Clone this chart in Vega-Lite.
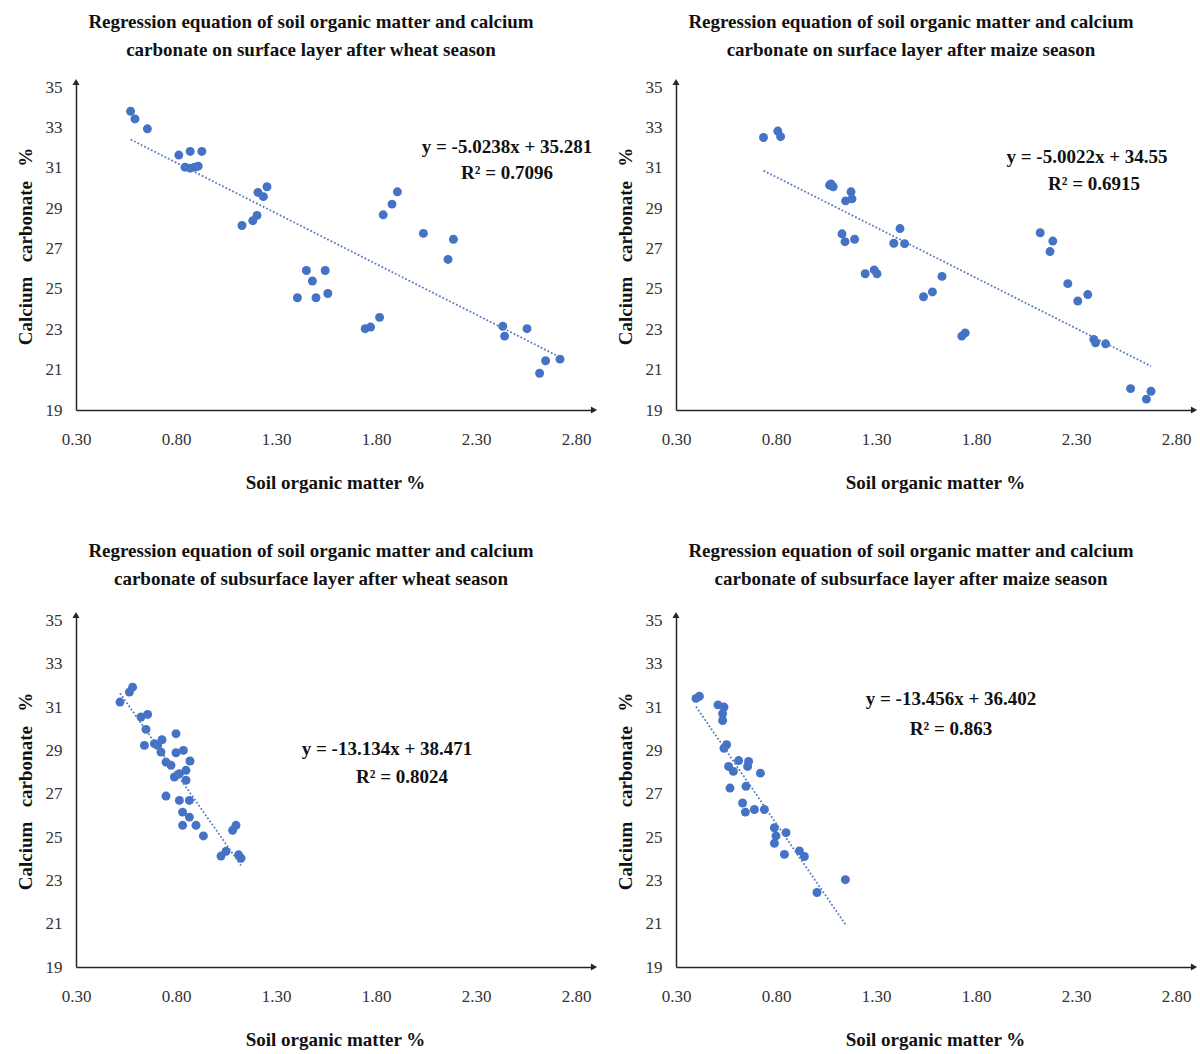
{
  "$schema": "https://vega.github.io/schema/vega-lite/v6.json",
  "background": "white",
  "padding": {"left": 16, "top": 13, "right": 5, "bottom": 5},
  "config": {
    "font": "Liberation Serif",
    "view": {"stroke": null},
    "axis": {"grid": false, "ticks": false, "domainColor": "#262626", "domainWidth": 1.5, "labelFont": "Liberation Serif", "labelFontSize": 17, "labelColor": "#333333", "titleFont": "Liberation Serif", "titleFontSize": 19, "titleFontWeight": "bold", "titleColor": "#111111", "labelFlush": false},
    "axisX": {"labelPadding": 21, "titlePadding": 26},
    "axisY": {"labelPadding": 14, "titlePadding": 10},
    "title": {"font": "Liberation Serif", "fontSize": 19, "fontWeight": "bold", "color": "#111111", "lineHeight": 28, "offset": 18, "dx": -24}
  },
  "datasets": {
    "points": [
      {"p": 1, "x": 0.573, "y": 33.80}, {"p": 1, "x": 0.595, "y": 33.42}, {"p": 1, "x": 0.657, "y": 32.93},
      {"p": 1, "x": 0.814, "y": 31.63}, {"p": 1, "x": 0.871, "y": 31.81}, {"p": 1, "x": 0.929, "y": 31.81},
      {"p": 1, "x": 0.845, "y": 31.03}, {"p": 1, "x": 0.871, "y": 30.98}, {"p": 1, "x": 0.893, "y": 31.03}, {"p": 1, "x": 0.911, "y": 31.08},
      {"p": 1, "x": 1.255, "y": 30.06}, {"p": 1, "x": 1.21, "y": 29.78}, {"p": 1, "x": 1.237, "y": 29.57},
      {"p": 1, "x": 1.205, "y": 28.64}, {"p": 1, "x": 1.184, "y": 28.38}, {"p": 1, "x": 1.13, "y": 28.14},
      {"p": 1, "x": 1.907, "y": 29.81}, {"p": 1, "x": 1.88, "y": 29.20}, {"p": 1, "x": 1.836, "y": 28.67},
      {"p": 1, "x": 2.037, "y": 27.75}, {"p": 1, "x": 2.187, "y": 27.46}, {"p": 1, "x": 2.16, "y": 26.46},
      {"p": 1, "x": 1.452, "y": 25.91}, {"p": 1, "x": 1.546, "y": 25.91}, {"p": 1, "x": 1.482, "y": 25.39},
      {"p": 1, "x": 1.407, "y": 24.56}, {"p": 1, "x": 1.50, "y": 24.56}, {"p": 1, "x": 1.559, "y": 24.77},
      {"p": 1, "x": 1.818, "y": 23.59}, {"p": 1, "x": 1.773, "y": 23.11}, {"p": 1, "x": 1.746, "y": 23.03},
      {"p": 1, "x": 2.434, "y": 23.15}, {"p": 1, "x": 2.443, "y": 22.66}, {"p": 1, "x": 2.555, "y": 23.03},
      {"p": 1, "x": 2.72, "y": 21.52}, {"p": 1, "x": 2.648, "y": 21.44}, {"p": 1, "x": 2.618, "y": 20.82},

      {"p": 2, "x": 0.7375, "y": 32.50}, {"p": 2, "x": 0.809, "y": 32.82}, {"p": 2, "x": 0.823, "y": 32.54},
      {"p": 2, "x": 1.068, "y": 30.14}, {"p": 2, "x": 1.086, "y": 30.06}, {"p": 2, "x": 1.075, "y": 30.2},
      {"p": 2, "x": 1.175, "y": 29.81}, {"p": 2, "x": 1.148, "y": 29.36}, {"p": 2, "x": 1.18, "y": 29.46},
      {"p": 2, "x": 1.13, "y": 27.73}, {"p": 2, "x": 1.145, "y": 27.34}, {"p": 2, "x": 1.193, "y": 27.46},
      {"p": 2, "x": 1.42, "y": 27.99}, {"p": 2, "x": 1.389, "y": 27.26}, {"p": 2, "x": 1.443, "y": 27.24},
      {"p": 2, "x": 1.246, "y": 25.75}, {"p": 2, "x": 1.291, "y": 25.94}, {"p": 2, "x": 1.305, "y": 25.75},
      {"p": 2, "x": 1.63, "y": 25.62}, {"p": 2, "x": 1.582, "y": 24.85}, {"p": 2, "x": 1.5375, "y": 24.61},
      {"p": 2, "x": 1.729, "y": 22.66}, {"p": 2, "x": 1.746, "y": 22.82},
      {"p": 2, "x": 2.121, "y": 27.78}, {"p": 2, "x": 2.184, "y": 27.37}, {"p": 2, "x": 2.17, "y": 26.85},
      {"p": 2, "x": 2.259, "y": 25.26}, {"p": 2, "x": 2.309, "y": 24.40}, {"p": 2, "x": 2.359, "y": 24.72},
      {"p": 2, "x": 2.389, "y": 22.50}, {"p": 2, "x": 2.398, "y": 22.33}, {"p": 2, "x": 2.448, "y": 22.28},
      {"p": 2, "x": 2.573, "y": 20.06}, {"p": 2, "x": 2.652, "y": 19.54}, {"p": 2, "x": 2.675, "y": 19.93},

      {"p": 3, "x": 0.52, "y": 31.23}, {"p": 3, "x": 0.567, "y": 31.69}, {"p": 3, "x": 0.583, "y": 31.92},
      {"p": 3, "x": 0.625, "y": 30.54}, {"p": 3, "x": 0.658, "y": 30.66}, {"p": 3, "x": 0.65, "y": 29.97},
      {"p": 3, "x": 0.642, "y": 29.23}, {"p": 3, "x": 0.692, "y": 29.31}, {"p": 3, "x": 0.708, "y": 29.23},
      {"p": 3, "x": 0.73, "y": 29.49}, {"p": 3, "x": 0.725, "y": 28.92}, {"p": 3, "x": 0.80, "y": 29.77},
      {"p": 3, "x": 0.80, "y": 28.89}, {"p": 3, "x": 0.837, "y": 29.0}, {"p": 3, "x": 0.87, "y": 28.51},
      {"p": 3, "x": 0.75, "y": 28.46}, {"p": 3, "x": 0.775, "y": 28.31}, {"p": 3, "x": 0.792, "y": 27.77},
      {"p": 3, "x": 0.817, "y": 27.92}, {"p": 3, "x": 0.85, "y": 28.08}, {"p": 3, "x": 0.85, "y": 27.62},
      {"p": 3, "x": 0.75, "y": 26.89}, {"p": 3, "x": 0.817, "y": 26.69}, {"p": 3, "x": 0.867, "y": 26.69},
      {"p": 3, "x": 0.833, "y": 26.15}, {"p": 3, "x": 0.867, "y": 25.92}, {"p": 3, "x": 0.833, "y": 25.54},
      {"p": 3, "x": 0.90, "y": 25.54}, {"p": 3, "x": 0.937, "y": 25.05}, {"p": 3, "x": 1.025, "y": 24.12},
      {"p": 3, "x": 1.05, "y": 24.34}, {"p": 3, "x": 1.083, "y": 25.31}, {"p": 3, "x": 1.10, "y": 25.54},
      {"p": 3, "x": 1.125, "y": 24.02}, {"p": 3, "x": 1.113, "y": 24.18},

      {"p": 4, "x": 0.40, "y": 31.4}, {"p": 4, "x": 0.417, "y": 31.5}, {"p": 4, "x": 0.51, "y": 31.1},
      {"p": 4, "x": 0.54, "y": 31.0}, {"p": 4, "x": 0.533, "y": 30.7}, {"p": 4, "x": 0.533, "y": 30.38},
      {"p": 4, "x": 0.553, "y": 29.26}, {"p": 4, "x": 0.54, "y": 29.1}, {"p": 4, "x": 0.563, "y": 28.26},
      {"p": 4, "x": 0.587, "y": 28.03}, {"p": 4, "x": 0.613, "y": 28.53}, {"p": 4, "x": 0.663, "y": 28.49},
      {"p": 4, "x": 0.658, "y": 28.26}, {"p": 4, "x": 0.722, "y": 27.95}, {"p": 4, "x": 0.65, "y": 27.34},
      {"p": 4, "x": 0.57, "y": 27.26}, {"p": 4, "x": 0.633, "y": 26.57}, {"p": 4, "x": 0.647, "y": 26.15},
      {"p": 4, "x": 0.692, "y": 26.27}, {"p": 4, "x": 0.742, "y": 26.27}, {"p": 4, "x": 0.792, "y": 25.43},
      {"p": 4, "x": 0.80, "y": 25.05}, {"p": 4, "x": 0.792, "y": 24.71}, {"p": 4, "x": 0.85, "y": 25.2},
      {"p": 4, "x": 0.842, "y": 24.2}, {"p": 4, "x": 0.917, "y": 24.36}, {"p": 4, "x": 0.942, "y": 24.1},
      {"p": 4, "x": 1.005, "y": 22.44}, {"p": 4, "x": 1.147, "y": 23.03}
    ],
    "trend": [
      {"p": 1, "x": 0.573, "y": 32.40}, {"p": 1, "x": 2.72, "y": 21.62},
      {"p": 2, "x": 0.7375, "y": 30.86}, {"p": 2, "x": 2.675, "y": 21.17},
      {"p": 3, "x": 0.52, "y": 31.64}, {"p": 3, "x": 1.125, "y": 23.69},
      {"p": 4, "x": 0.40, "y": 31.02}, {"p": 4, "x": 1.147, "y": 20.97}
    ],
    "eq": [
      {"p": 1, "x": 2.455, "y": 32.03, "t": "y = -5.0238x + 35.281"}, {"p": 1, "x": 2.455, "y": 30.74, "t": "R² = 0.7096"},
      {"p": 2, "x": 2.355, "y": 31.53, "t": "y = -5.0022x + 34.55"}, {"p": 2, "x": 2.39, "y": 30.2, "t": "R² = 0.6915"},
      {"p": 3, "x": 1.855, "y": 29.07, "t": "y = -13.134x + 38.471"}, {"p": 3, "x": 1.93, "y": 27.78, "t": "R² = 0.8024"},
      {"p": 4, "x": 1.675, "y": 31.37, "t": "y = -13.456x + 36.402"}, {"p": 4, "x": 1.675, "y": 29.99, "t": "R² = 0.863"}
    ]
  },
  "vconcat": [
    {
      "bounds": "flush",
      "spacing": 82,
      "hconcat": [
        {
          "width": 518, "height": 328,
          "title": {"text": ["Regression equation of soil organic matter and calcium", "carbonate on surface layer after wheat season"]},
          "layer": [
            {"data": {"name": "points"}, "transform": [{"filter": "datum.p == 1"}],
             "mark": {"type": "circle", "size": 80, "color": "#4472C4", "opacity": 1},
             "encoding": {
               "x": {"field": "x", "type": "quantitative", "title": "Soil organic matter %", "scale": {"domain": [0.3, 2.89], "nice": false, "zero": false}, "axis": {"values": [0.3, 0.8, 1.3, 1.8, 2.3, 2.8], "format": ".2f"}},
               "y": {"field": "y", "type": "quantitative", "title": "Calcium\u00a0\u00a0\u00a0carbonate\u00a0\u00a0\u00a0%", "scale": {"domain": [19, 35.25], "nice": false, "zero": false}, "axis": {"values": [19, 21, 23, 25, 27, 29, 31, 33, 35]}}
             }},
            {"data": {"name": "trend"}, "transform": [{"filter": "datum.p == 1"}],
             "mark": {"type": "line", "color": "#5a7dbf", "strokeWidth": 1.8, "strokeDash": [1.8, 2]},
             "encoding": {"x": {"field": "x", "type": "quantitative"}, "y": {"field": "y", "type": "quantitative"}}},
            {"data": {"name": "eq"}, "transform": [{"filter": "datum.p == 1"}],
             "mark": {"type": "text", "fontSize": 19, "fontWeight": "bold", "align": "center", "baseline": "middle", "color": "#111111"},
             "encoding": {"x": {"field": "x", "type": "quantitative"}, "y": {"field": "y", "type": "quantitative"}, "text": {"field": "t"}}},
            {"data": {"values": [{}]}, "mark": {"type": "point", "shape": "triangle-up", "filled": true, "size": 50, "color": "#262626", "opacity": 1},
             "encoding": {"x": {"datum": 0.3, "type": "quantitative"}, "y": {"datum": 35.25, "type": "quantitative"}}},
            {"data": {"values": [{}]}, "mark": {"type": "point", "shape": "triangle-right", "filled": true, "size": 50, "color": "#262626", "opacity": 1},
             "encoding": {"x": {"datum": 2.89, "type": "quantitative"}, "y": {"datum": 19, "type": "quantitative"}}}
          ]
        },
        {
          "width": 518, "height": 328,
          "title": {"text": ["Regression equation of soil organic matter and calcium", "carbonate on surface layer after maize season"]},
          "layer": [
            {"data": {"name": "points"}, "transform": [{"filter": "datum.p == 2"}],
             "mark": {"type": "circle", "size": 80, "color": "#4472C4", "opacity": 1},
             "encoding": {
               "x": {"field": "x", "type": "quantitative", "title": "Soil organic matter %", "scale": {"domain": [0.3, 2.89], "nice": false, "zero": false}, "axis": {"values": [0.3, 0.8, 1.3, 1.8, 2.3, 2.8], "format": ".2f"}},
               "y": {"field": "y", "type": "quantitative", "title": "Calcium\u00a0\u00a0\u00a0carbonate\u00a0\u00a0\u00a0%", "scale": {"domain": [19, 35.25], "nice": false, "zero": false}, "axis": {"values": [19, 21, 23, 25, 27, 29, 31, 33, 35]}}
             }},
            {"data": {"name": "trend"}, "transform": [{"filter": "datum.p == 2"}],
             "mark": {"type": "line", "color": "#5a7dbf", "strokeWidth": 1.8, "strokeDash": [1.8, 2]},
             "encoding": {"x": {"field": "x", "type": "quantitative"}, "y": {"field": "y", "type": "quantitative"}}},
            {"data": {"name": "eq"}, "transform": [{"filter": "datum.p == 2"}],
             "mark": {"type": "text", "fontSize": 19, "fontWeight": "bold", "align": "center", "baseline": "middle", "color": "#111111"},
             "encoding": {"x": {"field": "x", "type": "quantitative"}, "y": {"field": "y", "type": "quantitative"}, "text": {"field": "t"}}},
            {"data": {"values": [{}]}, "mark": {"type": "point", "shape": "triangle-up", "filled": true, "size": 50, "color": "#262626", "opacity": 1},
             "encoding": {"x": {"datum": 0.3, "type": "quantitative"}, "y": {"datum": 35.25, "type": "quantitative"}}},
            {"data": {"values": [{}]}, "mark": {"type": "point", "shape": "triangle-right", "filled": true, "size": 50, "color": "#262626", "opacity": 1},
             "encoding": {"x": {"datum": 2.89, "type": "quantitative"}, "y": {"datum": 19, "type": "quantitative"}}}
          ]
        }
      ]
    },
    {
      "bounds": "flush",
      "spacing": 82,
      "hconcat": [
        {
          "width": 518, "height": 352,
          "title": {"text": ["Regression equation of soil organic matter and calcium", "carbonate of subsurface layer after wheat season"], "offset": 22},
          "layer": [
            {"data": {"name": "points"}, "transform": [{"filter": "datum.p == 3"}],
             "mark": {"type": "circle", "size": 80, "color": "#4472C4", "opacity": 1},
             "encoding": {
               "x": {"field": "x", "type": "quantitative", "title": "Soil organic matter %", "scale": {"domain": [0.3, 2.89], "nice": false, "zero": false}, "axis": {"values": [0.3, 0.8, 1.3, 1.8, 2.3, 2.8], "format": ".2f"}},
               "y": {"field": "y", "type": "quantitative", "title": "Calcium\u00a0\u00a0\u00a0carbonate\u00a0\u00a0\u00a0%", "scale": {"domain": [19, 35.25], "nice": false, "zero": false}, "axis": {"values": [19, 21, 23, 25, 27, 29, 31, 33, 35]}}
             }},
            {"data": {"name": "trend"}, "transform": [{"filter": "datum.p == 3"}],
             "mark": {"type": "line", "color": "#5a7dbf", "strokeWidth": 1.8, "strokeDash": [1.8, 2]},
             "encoding": {"x": {"field": "x", "type": "quantitative"}, "y": {"field": "y", "type": "quantitative"}}},
            {"data": {"name": "eq"}, "transform": [{"filter": "datum.p == 3"}],
             "mark": {"type": "text", "fontSize": 19, "fontWeight": "bold", "align": "center", "baseline": "middle", "color": "#111111"},
             "encoding": {"x": {"field": "x", "type": "quantitative"}, "y": {"field": "y", "type": "quantitative"}, "text": {"field": "t"}}},
            {"data": {"values": [{}]}, "mark": {"type": "point", "shape": "triangle-up", "filled": true, "size": 50, "color": "#262626", "opacity": 1},
             "encoding": {"x": {"datum": 0.3, "type": "quantitative"}, "y": {"datum": 35.25, "type": "quantitative"}}},
            {"data": {"values": [{}]}, "mark": {"type": "point", "shape": "triangle-right", "filled": true, "size": 50, "color": "#262626", "opacity": 1},
             "encoding": {"x": {"datum": 2.89, "type": "quantitative"}, "y": {"datum": 19, "type": "quantitative"}}}
          ]
        },
        {
          "width": 518, "height": 352,
          "title": {"text": ["Regression equation of soil organic matter and calcium", "carbonate of subsurface layer after maize season"], "offset": 22},
          "layer": [
            {"data": {"name": "points"}, "transform": [{"filter": "datum.p == 4"}],
             "mark": {"type": "circle", "size": 80, "color": "#4472C4", "opacity": 1},
             "encoding": {
               "x": {"field": "x", "type": "quantitative", "title": "Soil organic matter %", "scale": {"domain": [0.3, 2.89], "nice": false, "zero": false}, "axis": {"values": [0.3, 0.8, 1.3, 1.8, 2.3, 2.8], "format": ".2f"}},
               "y": {"field": "y", "type": "quantitative", "title": "Calcium\u00a0\u00a0\u00a0carbonate\u00a0\u00a0\u00a0%", "scale": {"domain": [19, 35.25], "nice": false, "zero": false}, "axis": {"values": [19, 21, 23, 25, 27, 29, 31, 33, 35]}}
             }},
            {"data": {"name": "trend"}, "transform": [{"filter": "datum.p == 4"}],
             "mark": {"type": "line", "color": "#5a7dbf", "strokeWidth": 1.8, "strokeDash": [1.8, 2]},
             "encoding": {"x": {"field": "x", "type": "quantitative"}, "y": {"field": "y", "type": "quantitative"}}},
            {"data": {"name": "eq"}, "transform": [{"filter": "datum.p == 4"}],
             "mark": {"type": "text", "fontSize": 19, "fontWeight": "bold", "align": "center", "baseline": "middle", "color": "#111111"},
             "encoding": {"x": {"field": "x", "type": "quantitative"}, "y": {"field": "y", "type": "quantitative"}, "text": {"field": "t"}}},
            {"data": {"values": [{}]}, "mark": {"type": "point", "shape": "triangle-up", "filled": true, "size": 50, "color": "#262626", "opacity": 1},
             "encoding": {"x": {"datum": 0.3, "type": "quantitative"}, "y": {"datum": 35.25, "type": "quantitative"}}},
            {"data": {"values": [{}]}, "mark": {"type": "point", "shape": "triangle-right", "filled": true, "size": 50, "color": "#262626", "opacity": 1},
             "encoding": {"x": {"datum": 2.89, "type": "quantitative"}, "y": {"datum": 19, "type": "quantitative"}}}
          ]
        }
      ]
    }
  ],
  "spacing": 50
}
